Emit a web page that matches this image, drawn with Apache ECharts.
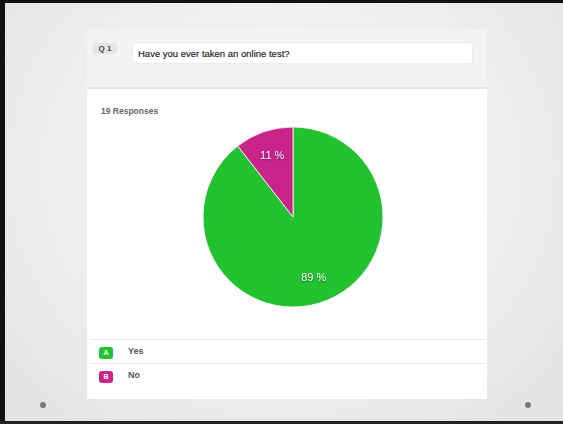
<!DOCTYPE html>
<html><head><meta charset="utf-8">
<script src="https://cdn.jsdelivr.net/npm/echarts@6/dist/echarts.min.js"></script>
<style>
html,body{margin:0;padding:0;width:563px;height:424px;overflow:hidden;font-family:"Liberation Sans",Arial,sans-serif;}
#slide{position:absolute;left:0;top:0;width:563px;height:424px;background:radial-gradient(ellipse at 50% 40%,#f8f8f8 0%,#efefef 50%,#e2e2e2 100%);}
#btop{position:absolute;left:0;top:0;width:563px;height:3px;background:#111;}
#bleft{position:absolute;left:0;top:0;width:5px;height:424px;background:#111;}
#bbot{position:absolute;left:0;top:421px;width:563px;height:3px;background:#222;}
#card{position:absolute;left:87px;top:29px;width:400px;height:370px;background:#fff;}
#head{position:absolute;left:87px;top:29px;width:400px;height:58px;background:#f3f3f3;border-bottom:2px solid #e6e6e6;}
#q1{position:absolute;left:93px;top:43px;width:24px;height:11px;background:#e4e4e4;border-radius:3px;font-size:8px;font-weight:bold;color:#444;text-align:center;line-height:11px;}
#qbox{position:absolute;left:132px;top:42px;width:341px;height:22px;background:#fff;border:1px solid #ececec;border-radius:3px;font-size:9.5px;color:#1a1a1a;line-height:21px;padding-left:5px;box-sizing:border-box;-webkit-text-stroke:0.15px #1a1a1a;}
#resp{position:absolute;left:101px;top:106px;font-size:8.5px;font-weight:bold;color:#666;}
.sep{position:absolute;left:90px;width:396px;height:1px;background:#e8e8e8;}
.badge{position:absolute;left:99px;width:14px;height:12px;border-radius:3px;color:#fff;font-size:7px;font-weight:bold;text-align:center;line-height:12px;}
.lt{position:absolute;left:128px;font-size:9px;font-weight:bold;color:#555;}
.dot{position:absolute;width:6px;height:6px;border-radius:3px;background:#7a7a7a;top:402px;}
#chart{position:absolute;left:0;top:0;width:563px;height:424px;}
</style></head>
<body>
<div id="slide"></div>
<div id="btop"></div><div id="bleft"></div><div id="bbot"></div>
<div id="card"></div>
<div id="head"></div>
<div id="q1">Q 1</div>
<div id="qbox">Have you ever taken an online test?</div>
<div id="resp">19 Responses</div>
<div class="sep" style="top:339px"></div>
<div class="sep" style="top:363px"></div>
<div class="badge" style="top:347px;background:#22c12f">A</div>
<div class="lt" style="top:346px">Yes</div>
<div class="badge" style="top:371px;background:#c8248a">B</div>
<div class="lt" style="top:370px">No</div>
<div class="dot" style="left:40px"></div>
<div class="dot" style="left:525px"></div>
<div id="chart"></div>
<script>
const categories = ["Yes", "No"];
const counts = [17, 2];
const colors = ["#22c12f", "#c8248a"];

const chart = echarts.init(document.getElementById('chart'), null, {renderer:'canvas'});
const data = categories.map((c,i)=>({name:c, value:counts[i], itemStyle:{color:colors[i]}}));
chart.setOption({
  backgroundColor:'transparent',
  animation:false,
  series:[
    {type:'pie', center:[293,217], radius:[0,90], startAngle:90, clockwise:true,
     percentPrecision:0, silent:true,
     itemStyle:{borderColor:'#ffffff', borderWidth:0.8},
     label:{show:false}, labelLine:{show:false},
     data:data},
    {type:'pie', center:[293,217], radius:[32,90], startAngle:90, clockwise:true,
     percentPrecision:0, silent:true,
     itemStyle:{color:'transparent'},
     label:{show:true, position:'inside', formatter:p=>p.percent+' %', color:'#ffffff',
            fontSize:11, fontFamily:'Liberation Sans, Arial, sans-serif',
            textShadowColor:'rgba(0,0,0,0.45)', textShadowBlur:2, textShadowOffsetY:1},
     labelLine:{show:false},
     data:categories.map((c,i)=>({name:c, value:counts[i]}))}
  ]
});
</script>
</body></html>
